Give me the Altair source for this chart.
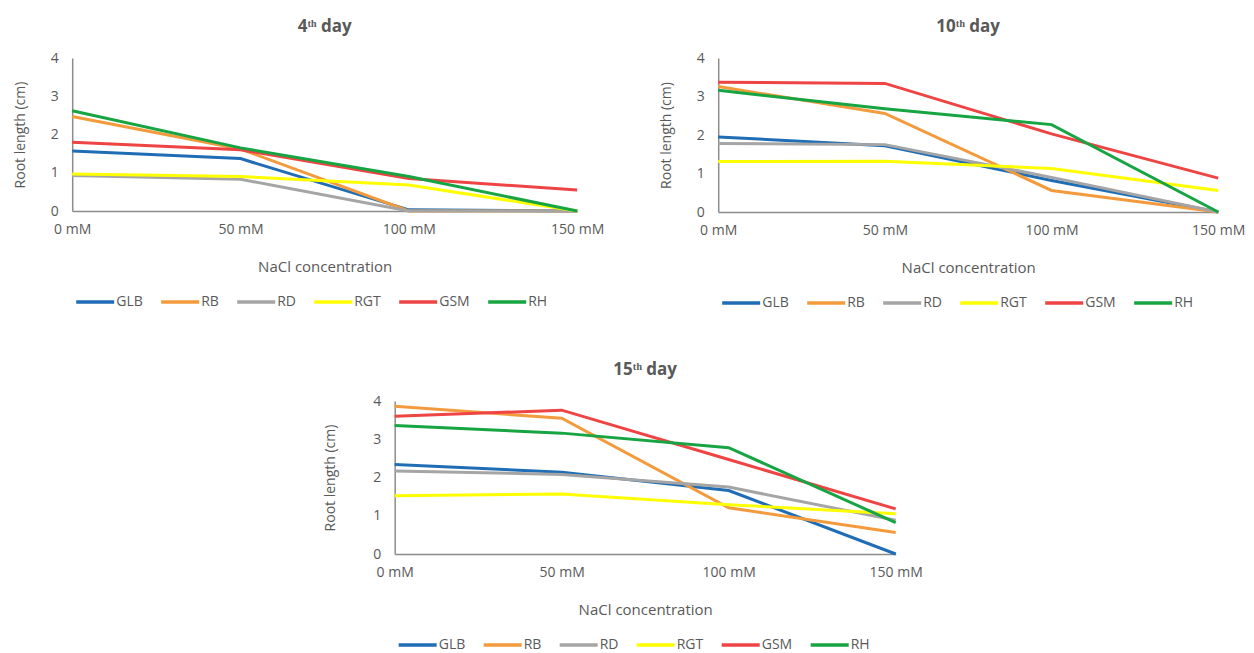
import altair as alt
import pandas as pd

series = ["GLB", "RB", "RD", "RGT", "GSM", "RH"]
colors = ["#1F6DB5", "#F39B3C", "#A5A5A5", "#FFFF00", "#EE4444", "#17A443"]
conc = [0, 50, 100, 150]
tick_labels = ["0 mM", "50 mM", "100 mM", "150 mM"]
titles = ["4ᵗʰ day", "10ᵗʰ day", "15ᵗʰ day"]

day4 = {
    "GLB": [1.57, 1.37, 0.03, 0.0],
    "RB": [2.47, 1.62, 0.0, 0.0],
    "RD": [0.93, 0.83, 0.0, 0.0],
    "RGT": [0.97, 0.90, 0.68, 0.0],
    "GSM": [1.80, 1.60, 0.85, 0.55],
    "RH": [2.62, 1.65, 0.90, 0.0],
}
day10 = {
    "GLB": [1.95, 1.72, 0.82, 0.0],
    "RB": [3.26, 2.56, 0.56, 0.0],
    "RD": [1.78, 1.75, 0.90, 0.0],
    "RGT": [1.31, 1.32, 1.13, 0.56],
    "GSM": [3.37, 3.34, 2.03, 0.88],
    "RH": [3.16, 2.68, 2.27, 0.0],
}
day15 = {
    "GLB": [2.34, 2.14, 1.66, 0.0],
    "RB": [3.86, 3.55, 1.21, 0.56],
    "RD": [2.17, 2.08, 1.75, 0.88],
    "RGT": [1.52, 1.57, 1.29, 1.05],
    "GSM": [3.60, 3.76, 2.47, 1.18],
    "RH": [3.36, 3.16, 2.78, 0.82],
}

TXT = "#595959"
label_expr = "{" + ",".join(f"'{c}':'{l}'" for c, l in zip(conc, tick_labels)) + "}[datum.value]"


def panel(title, data, w, h, tpad):
    rows = []
    for s in series:
        for c, v in zip(conc, data[s]):
            rows.append({"conc": c, "val": v, "series": s})
    df = pd.DataFrame(rows)
    return (
        alt.Chart(df)
        .mark_line(strokeWidth=3)
        .encode(
            x=alt.X(
                "conc:Q",
                scale=alt.Scale(domain=[0, 150], nice=False),
                axis=alt.Axis(
                    values=conc,
                    labelExpr=label_expr,
                    labelFlush=False,
                    title="NaCl concentration",
                    labelPadding=11,
                    titlePadding=23,
                    titleFontSize=15,
                ),
            ),
            y=alt.Y(
                "val:Q",
                scale=alt.Scale(domain=[0, 4], nice=False),
                axis=alt.Axis(
                    values=[0, 1, 2, 3, 4],
                    title="Root length (cm)",
                    labelPadding=14,
                    titlePadding=tpad,
                    titleFontSize=14,
                ),
            ),
            color=alt.Color(
                "series:N",
                scale=alt.Scale(domain=series, range=colors),
                legend=alt.Legend(
                    orient="none",
                    legendX=2,
                    legendY=h + 70,
                    direction="horizontal",
                    title=None,
                    symbolType="stroke",
                    symbolSize=1444,
                    symbolStrokeWidth=3.5,
                    labelOffset=0,
                    columnPadding=11,
                    labelFontSize=14,
                    labelColor=TXT,
                ),
            ),
            order=alt.Order("conc:Q"),
        )
        .properties(
            width=w,
            height=h,
            title=alt.TitleParams(
                text=title,
                fontSize=17,
                fontWeight="bold",
                color=TXT,
                anchor="middle",
                offset=15,
            ),
        )
    )


p1 = panel(titles[0], day4, 505, 153, 23)
p2 = panel(titles[1], day10, 500, 154, 23)
p3 = panel(titles[2], day15, 501, 153, 35)

top = (
    alt.hconcat(p1, p2, spacing=54)
    .resolve_scale(color="independent")
    .resolve_legend(color="independent")
)
chart = (
    alt.vconcat(top, p3, spacing=51, center=True)
    .resolve_scale(color="independent")
    .resolve_legend(color="independent")
    .properties(padding={"left": 5, "top": 10, "right": 0, "bottom": 0})
    .configure(font="Open Sans")
    .configure_view(stroke=None)
    .configure_axis(
        grid=False,
        ticks=False,
        domainColor="#8C8C8C",
        domainWidth=1.5,
        labelColor=TXT,
        titleColor=TXT,
        labelFontSize=14,
        titleFontWeight="normal",
    )
)

chart.save("out.html", embed_options={"renderer": "svg", "actions": False})
